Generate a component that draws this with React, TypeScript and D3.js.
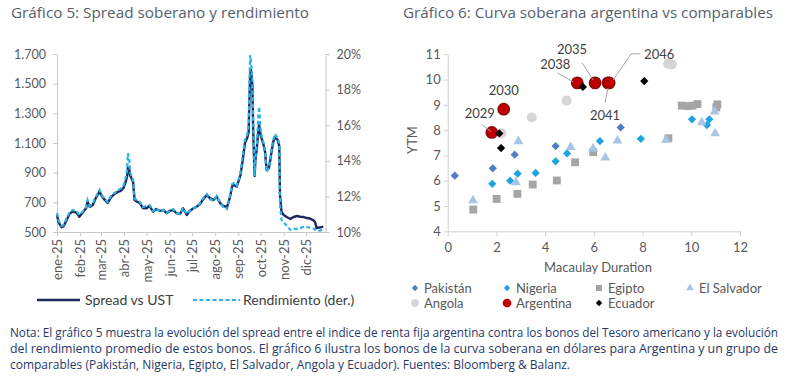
import React, { useEffect, useRef } from 'react';
import * as d3 from 'd3';

// Gráfico 5: spread (pb) and average yield (%), 2025
const dates = [
  '2025-01-01', '2025-01-03', '2025-01-07', '2025-01-10', '2025-01-14', '2025-01-18', '2025-01-22', '2025-01-27',
  '2025-01-31', '2025-02-04', '2025-02-09', '2025-02-11', '2025-02-14', '2025-02-18', '2025-02-22', '2025-02-27',
  '2025-03-02', '2025-03-06', '2025-03-10', '2025-03-15', '2025-03-19', '2025-03-24', '2025-03-27', '2025-03-31',
  '2025-04-03', '2025-04-05', '2025-04-06', '2025-04-08', '2025-04-09', '2025-04-13', '2025-04-15', '2025-04-19',
  '2025-04-22', '2025-04-26', '2025-05-01', '2025-05-05', '2025-05-10', '2025-05-14', '2025-05-19', '2025-05-24',
  '2025-05-28', '2025-06-01', '2025-06-06', '2025-06-10', '2025-06-15', '2025-06-19', '2025-06-24', '2025-06-28',
  '2025-07-03', '2025-07-07', '2025-07-12', '2025-07-16', '2025-07-21', '2025-07-25', '2025-07-30', '2025-08-03',
  '2025-08-08', '2025-08-12', '2025-08-17', '2025-08-20', '2025-08-24', '2025-08-26', '2025-08-30', '2025-09-04',
  '2025-09-07', '2025-09-10', '2025-09-13', '2025-09-15', '2025-09-16', '2025-09-17', '2025-09-18', '2025-09-20',
  '2025-09-21', '2025-09-23', '2025-09-24', '2025-09-26', '2025-09-28', '2025-09-29', '2025-10-01', '2025-10-03',
  '2025-10-05', '2025-10-07', '2025-10-09', '2025-10-12', '2025-10-14', '2025-10-16', '2025-10-18', '2025-10-20',
  '2025-10-24', '2025-10-26', '2025-10-27', '2025-10-29', '2025-11-01', '2025-11-05', '2025-11-10', '2025-11-14',
  '2025-11-19', '2025-11-23', '2025-11-28', '2025-12-02', '2025-12-06', '2025-12-11', '2025-12-13', '2025-12-15',
  '2025-12-19', '2025-12-24',
];

const spread = [
  615, 567, 532, 540, 581, 625, 637, 631,
  603, 628, 660, 704, 669, 682, 729, 772,
  743, 716, 696, 738, 756, 772, 776, 795,
  837, 873, 931, 918, 884, 837, 716, 702,
  696, 662, 660, 675, 637, 655, 642, 648,
  626, 642, 648, 628, 621, 660, 615, 642,
  660, 669, 689, 722, 749, 729, 716, 738,
  693, 675, 669, 716, 810, 817, 805, 884,
  985, 1100, 1134, 1174, 1390, 1558, 1592, 1491,
  1188, 878, 985, 1066, 1188, 1221, 1154, 1120,
  1087, 1039, 918, 931, 985, 1053, 1107, 1140,
  1120, 1080, 749, 635, 615, 601, 588, 601,
  608, 603, 601, 594, 591, 578, 567, 527,
  530, 536,
];

const rendimiento = [
  11.07, 10.67, 10.34, 10.39, 10.79, 11.12, 11.24, 11.18,
  10.96, 11.12, 11.4, 11.8, 11.46, 11.63, 11.97, 12.36,
  12.08, 11.85, 11.69, 12.08, 12.19, 12.36, 12.42, 12.58,
  13.03, 13.48, 14.42, 14.04, 13.37, 12.92, 11.91, 11.74,
  11.69, 11.4, 11.46, 11.52, 11.18, 11.35, 11.12, 11.24,
  11.07, 11.18, 11.29, 11.07, 11.01, 11.35, 11.01, 11.18,
  11.35, 11.4, 11.63, 11.91, 12.13, 11.85, 11.74, 12.02,
  11.63, 11.4, 11.29, 11.85, 12.7, 12.75, 12.58, 13.31,
  14.33, 15.17, 15.45, 16.01, 18.54, 19.94, 19.66, 18.54,
  16.29, 13.15, 14.16, 14.89, 16.57, 17.04, 15.73, 15.28,
  15.0, 14.49, 13.37, 13.6, 14.04, 14.72, 15.17, 15.51,
  15.28, 14.94, 11.52, 10.67, 10.56, 10.34, 10.11, 10.17,
  10.17, 10.22, 10.3, 10.28, 10.25, 10.2, 10.14, 10.06,
  10.08, 10.14,
];

const monthLabels = ['ene', 'feb', 'mar', 'abr', 'may', 'jun', 'jul', 'ago', 'sep', 'oct', 'nov', 'dic'];
const spreadTicks = [500, 700, 900, 1100, 1300, 1500, 1700];
const yieldTicks = [10, 12, 14, 16, 18, 20];

// Gráfico 6: [Macaulay duration, YTM]
const pakistan = [[0.29, 6.2], [1.85, 6.49], [2.75, 7.03], [4.43, 7.37], [7.1, 8.11]];
const nigeria = [
  [1.83, 5.88], [2.56, 6.0], [2.87, 6.28], [3.61, 6.31], [4.43, 6.77], [4.9, 7.08],
  [6.25, 7.57], [7.93, 7.66], [10.03, 8.43], [10.64, 8.2], [10.74, 8.43],
];
const egipto = [
  [1.05, 4.86], [2.01, 5.28], [2.86, 5.48], [3.49, 5.85], [4.48, 6.01], [5.23, 6.73], [5.97, 7.13],
  [9.06, 7.68], [9.61, 8.97], [9.85, 8.95], [10.05, 8.97], [10.25, 9.03], [11.07, 9.02], [11.03, 8.9],
];
const elSalvador = [
  [1.04, 5.22], [2.8, 5.93], [2.9, 7.56], [5.05, 7.33], [5.97, 7.27], [6.47, 6.91],
  [6.97, 7.58], [8.96, 7.61], [10.43, 8.31], [10.98, 7.87], [10.96, 8.73],
];
const angola = [[2.2, 7.88], [3.45, 8.5], [4.88, 9.17], [9.05, 10.63], [9.2, 10.6]];
const argentina = [[1.81, 7.91], [2.3, 8.83], [5.32, 9.87], [6.05, 9.87], [6.58, 9.87], [6.63, 9.87]];
const argentinaBonds = ['2029', '2030', '2038', '2035', '2041', '2046'];
const ecuador = [[2.12, 7.87], [2.19, 7.29], [5.55, 9.71], [8.07, 9.94]];
const durationTicks = [0, 2, 4, 6, 8, 10, 12];
const ytmTicks = [4, 5, 6, 7, 8, 9, 10, 11];

const FONT = "Lato, 'Open Sans', sans-serif";
const TITLE_FONT = "'Open Sans', 'Noto Sans', sans-serif";

export default function App() {
  const ref = useRef<SVGSVGElement>(null);

  useEffect(() => {
    const svg = d3.select(ref.current);
    svg.selectAll('*').remove();

    const styleAxis = (g: any, color: string, size: number) => {
      g.select('.domain').attr('stroke', color);
      g.selectAll('.tick line').attr('stroke', color);
      g.selectAll('.tick text').attr('fill', '#595959').style('font-family', FONT).style('font-size', size + 'px');
    };

    // titles
    svg.append('text').attr('x', 11).attr('y', 18).attr('textLength', 298).attr('lengthAdjust', 'spacingAndGlyphs')
      .style('font-family', TITLE_FONT).style('font-size', '15px').attr('fill', '#56606c')
      .text('Gráfico 5: Spread soberano y rendimiento');
    svg.append('text').attr('x', 403).attr('y', 18).attr('textLength', 370).attr('lengthAdjust', 'spacingAndGlyphs')
      .style('font-family', TITLE_FONT).style('font-size', '15px').attr('fill', '#56606c')
      .text('Gráfico 6: Curva soberana argentina vs comparables');

    // ---------- Gráfico 5 ----------
    const parse = d3.timeParse('%Y-%m-%d');
    const rows = dates.map((d, i) => ({ date: parse(d) as Date, s: spread[i], r: rendimiento[i] }));

    const x = d3.scaleTime().domain([new Date(2025, 0, 1), new Date(2025, 11, 27)]).range([57, 325.5]);
    const yL = d3.scaleLinear().domain([500, 1700]).range([232, 54]);
    const yR = d3.scaleLinear().domain([10, 20]).range([232, 54]);
    const fmt = d3.formatLocale({ decimal: ',', thousands: '.', grouping: [3], currency: ['$', ''] }).format(',');

    svg.append('g').attr('transform', 'translate(57,0)')
      .call(d3.axisLeft(yL).tickValues(spreadTicks).tickSize(4).tickSizeOuter(0).tickPadding(7).tickFormat((d: any) => fmt(d)))
      .call((g: any) => styleAxis(g, '#c8c8c8', 12.5));

    svg.append('g').attr('transform', 'translate(325.5,0)')
      .call(d3.axisRight(yR).tickValues(yieldTicks).tickSize(4).tickSizeOuter(0).tickPadding(7).tickFormat((d: any) => d + '%'))
      .call((g: any) => styleAxis(g, '#c8c8c8', 12.5));

    const xAxis = svg.append('g').attr('transform', 'translate(0,232)')
      .call(d3.axisBottom(x)
        .tickValues(d3.timeMonth.range(new Date(2025, 0, 1), new Date(2025, 11, 2)))
        .tickSize(4).tickSizeOuter(0)
        .tickFormat((d: any) => monthLabels[d.getMonth()] + '-25'));
    styleAxis(xAxis, '#c8c8c8', 13);
    xAxis.selectAll('.tick text')
      .attr('transform', 'rotate(-90)')
      .attr('x', -7).attr('y', 0).attr('dy', '0.35em')
      .attr('text-anchor', 'end');

    const lineS = d3.line<any>().x(d => x(d.date)).y(d => yL(d.s));
    const lineR = d3.line<any>().x(d => x(d.date)).y(d => yR(d.r));

    svg.append('path').datum(rows).attr('d', lineS).attr('fill', 'none')
      .attr('stroke', '#1c2a5c').attr('stroke-width', 2.4).attr('stroke-linejoin', 'round');
    svg.append('path').datum(rows).attr('d', lineR).attr('fill', 'none')
      .attr('stroke', '#2cb3e8').attr('stroke-width', 2.2).attr('stroke-dasharray', '4 2.5');

    // legend
    const lg = svg.append('g');
    lg.append('line').attr('x1', 37).attr('x2', 80).attr('y1', 300).attr('y2', 300)
      .attr('stroke', '#1c2a5c').attr('stroke-width', 2.5);
    lg.append('text').attr('x', 85).attr('y', 300).attr('dy', '0.35em').attr('fill', '#404040')
      .style('font-family', FONT).style('font-size', '14px').text('Spread vs UST');
    lg.append('line').attr('x1', 193).attr('x2', 240).attr('y1', 300).attr('y2', 300)
      .attr('stroke', '#2cb3e8').attr('stroke-width', 2.2).attr('stroke-dasharray', '4 2.5');
    lg.append('text').attr('x', 243).attr('y', 300).attr('dy', '0.35em').attr('fill', '#404040')
      .style('font-family', FONT).style('font-size', '14px').text('Rendimiento (der.)');

    // ---------- Gráfico 6 ----------
    const xs = d3.scaleLinear().domain([0, 12]).range([447.7, 740]);
    const ys = d3.scaleLinear().domain([4, 11]).range([231.3, 54.3]);

    svg.append('g').attr('transform', 'translate(447.7,0)')
      .call(d3.axisLeft(ys).tickValues(ytmTicks).tickSize(4).tickSizeOuter(0).tickPadding(3).tickFormat((d: any) => String(d)))
      .call((g: any) => styleAxis(g, '#d0d0d0', 13));
    svg.append('g').attr('transform', 'translate(0,231.3)')
      .call(d3.axisBottom(xs).tickValues(durationTicks).tickSize(5).tickSizeOuter(0).tickPadding(6).tickFormat((d: any) => String(d)))
      .call((g: any) => styleAxis(g, '#d0d0d0', 13));

    svg.append('text').attr('transform', 'translate(412,140) rotate(-90)').attr('text-anchor', 'middle')
      .attr('dy', '0.35em').attr('fill', '#595959').style('font-family', FONT).style('font-size', '13px').text('YTM');
    svg.append('text').attr('x', 598).attr('y', 267).attr('text-anchor', 'middle').attr('dy', '0.35em')
      .attr('fill', '#595959').style('font-family', FONT).style('font-size', '13px').text('Macaulay Duration');

    const series = [
      { name: 'Pakistán', data: pakistan, shape: 'diamond', fill: '#4d7fc2', stroke: 'none' },
      { name: 'Nigeria', data: nigeria, shape: 'diamond', fill: '#1ea4e2', stroke: 'none' },
      { name: 'Egipto', data: egipto, shape: 'square', fill: '#a5a5a5', stroke: 'none' },
      { name: 'El Salvador', data: elSalvador, shape: 'triangle', fill: '#a8c4e6', stroke: 'none' },
      { name: 'Angola', data: angola, shape: 'circle', fill: '#d6d6d6', stroke: 'none' },
      { name: 'Argentina', data: argentina, shape: 'bigcircle', fill: '#c00000', stroke: '#8a0a0a' },
      { name: 'Ecuador', data: ecuador, shape: 'diamond', fill: '#000000', stroke: 'none' },
    ];

    const symbolPath = (shape: string, scale: number) => {
      if (shape === 'diamond' || shape === 'square') {
        return d3.symbol(d3.symbolSquare, (shape === 'diamond' ? 34 : 62) * scale)();
      }
      if (shape === 'triangle') return d3.symbol(d3.symbolTriangle, 42 * scale)();
      if (shape === 'bigcircle') return d3.symbol(d3.symbolCircle, 100 * scale)();
      return d3.symbol(d3.symbolCircle, 80 * scale)();
    };
    const rot = (shape: string) => (shape === 'diamond' ? ' rotate(45)' : '');

    series.forEach(sr => {
      svg.append('g').selectAll('path').data(sr.data).join('path')
        .attr('d', symbolPath(sr.shape, 1))
        .attr('transform', d => `translate(${xs(d[0])},${ys(d[1])})${rot(sr.shape)}`)
        .attr('fill', sr.fill)
        .attr('stroke', sr.stroke)
        .attr('stroke-width', 1.5);
    });

    // Argentina bond labels (offsets in px from the point)
    const labelOffsets = [
      { dx: -12, dy: -19, lead: [[-10, -8], [-1, -1]] },
      { dx: 0, dy: -19, lead: [] },
      { dx: -22, dy: -18, lead: [[-20, -10], [-4, -1]] },
      { dx: -23, dy: -33, lead: [[-13, -20], [-2, -3]] },
      { dx: -3, dy: 33, lead: [[-3, 20], [0, 5]] },
      { dx: 50, dy: -28, lead: [[31, -29], [22, -29], [4, -3]] },
    ];
    const lbl = svg.append('g');
    argentina.forEach((d, i) => {
      const px = xs(d[0]);
      const py = ys(d[1]);
      const o = labelOffsets[i];
      if (o.lead.length) {
        lbl.append('polyline')
          .attr('points', o.lead.map(p => `${px + p[0]},${py + p[1]}`).join(' '))
          .attr('fill', 'none').attr('stroke', '#a6a6a6').attr('stroke-width', 1);
      }
      lbl.append('text').attr('x', px + o.dx).attr('y', py + o.dy).attr('dy', '0.35em')
        .attr('text-anchor', 'middle').attr('fill', '#404040')
        .style('font-family', FONT).style('font-size', '13px').text(argentinaBonds[i]);
    });

    // legend
    const legX = [415, 507, 599, 690];
    const legY = [288, 303];
    series.forEach((sr, i) => {
      const cx = legX[i < 4 ? i : i - 4];
      const cy = legY[i < 4 ? 0 : 1];
      svg.append('path').attr('d', symbolPath(sr.shape, 0.6))
        .attr('transform', `translate(${cx},${cy})${rot(sr.shape)}`)
        .attr('fill', sr.fill).attr('stroke', 'none');
      svg.append('text').attr('x', cx + 9).attr('y', cy).attr('dy', '0.35em').attr('fill', '#595959')
        .style('font-family', FONT).style('font-size', '13px').text(sr.name);
    });

    // note
    const note = [
      { t: 'Nota: El gráfico 5 muestra la evolución del spread entre el indice de renta fija argentina contra los bonos del Tesoro americano y la evolución', w: 768 },
      { t: 'del rendimiento promedio de estos bonos. El gráfico 6 ilustra los bonos de la curva soberana en dólares para Argentina y un grupo de', w: 768 },
      { t: 'comparables (Pakistán, Nigeria, Egipto, El Salvador, Angola y Ecuador). Fuentes: Bloomberg & Balanz.', w: 560 },
    ];
    note.forEach((n, i) => {
      svg.append('text').attr('x', 10).attr('y', 337 + i * 15.8)
        .attr('textLength', n.w).attr('lengthAdjust', 'spacingAndGlyphs')
        .attr('fill', '#26386a').style('font-family', TITLE_FONT).style('font-size', '12px').text(n.t);
    });
  }, []);

  return (
    <svg ref={ref} width={800} height={387}
      style={{ position: 'absolute', left: 0, top: 0, background: '#ffffff' }} />
  );
}
